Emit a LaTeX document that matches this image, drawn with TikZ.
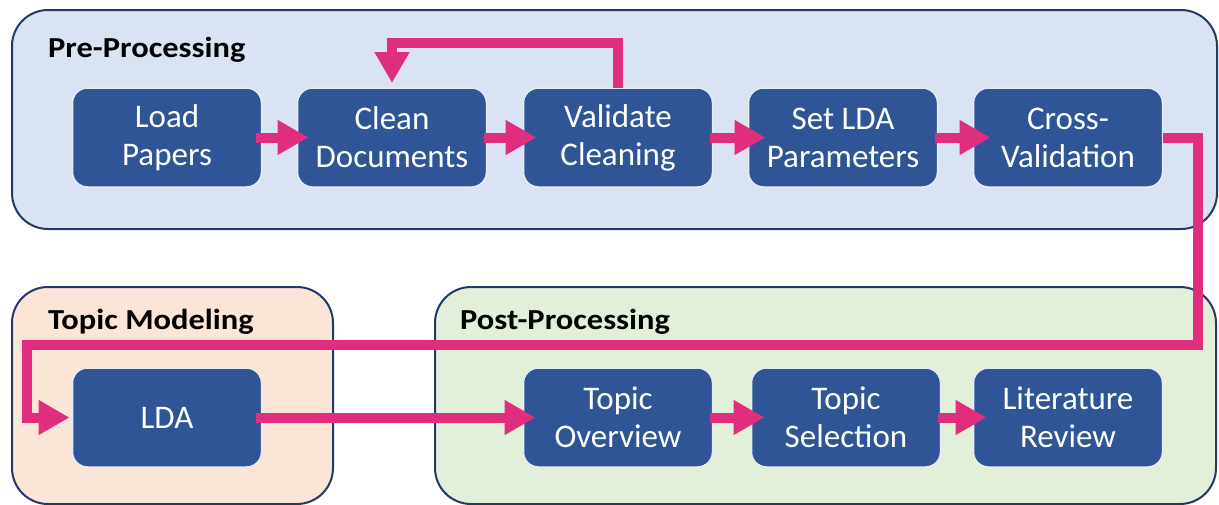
\documentclass[tikz,border=0pt]{standalone}
\usepackage{fontspec}
\setmainfont{Carlito}
\newfontfamily\titlefont[FakeStretch=1.12]{Carlito}
\usetikzlibrary{arrows.meta}
\definecolor{stepblue}{HTML}{2F5597}
\definecolor{stepedge}{HTML}{E6EBF4}
\definecolor{navy}{HTML}{22396A}
\definecolor{prefill}{HTML}{DAE3F3}
\definecolor{tmfill}{HTML}{FBE5D6}
\definecolor{postfill}{HTML}{E2F0D9}
\definecolor{flowpink}{RGB}{224,46,126}
\tikzset{
  stepbox/.style={rectangle, rounded corners=15pt, fill=stepblue, draw=stepedge,
    line width=1.5pt, minimum width=189pt, minimum height=99pt, outer sep=0pt,
    text=white, align=center, font=\fontsize{33}{38}\selectfont},
  groupbox/.style={rectangle, rounded corners=36pt, draw=navy, line width=2pt,
    outer sep=0pt, inner sep=0pt},
  grouptitle/.style={anchor=base west, inner sep=0pt,
    font=\titlefont\fontsize{29}{32}\selectfont\bfseries},
  flow/.style={draw=flowpink, line width=10pt, line join=miter,
    -{Triangle[length=31pt, width=33pt]}},
}
\begin{document}
\begin{tikzpicture}[x=1pt, y=-1pt]
\useasboundingbox (0,0) rectangle (1219,504);

% stage containers
\node[groupbox, fill=prefill, minimum width=1205pt, minimum height=219pt] (pre) at (614.5,119.5) {};
\node[groupbox, fill=tmfill, minimum width=321pt, minimum height=217pt] (tm) at (172.5,395.5) {};
\node[groupbox, fill=postfill, minimum width=781pt, minimum height=217pt] (post) at (825.5,395.5) {};

\node[grouptitle] (pretitle) at (48,57) {Pre-Processing};
\node[grouptitle] (tmtitle) at (48,329) {Topic Modeling};
\node[grouptitle] (posttitle) at (460,329) {Post-Processing};

% pre-processing steps
\node[stepbox] (load) at (167,137.5) {Load\\Papers};
\node[stepbox] (cln)  at (392,137.5) {Clean\\Documents};
\node[stepbox] (val)  at (618,137.5) {Validate\\Cleaning};
\node[stepbox] (lda-par) at (843,137.5) {Set LDA\\Parameters};
\node[stepbox] (cv)   at (1068,137.5) {Cross-\\Validation};

% modeling and post-processing steps
\node[stepbox] (lda)  at (167,417.5) {LDA};
\node[stepbox] (ovw)  at (618,417.5) {Topic\\Overview};
\node[stepbox] (sel)  at (846,417.5) {Topic\\Selection};
\node[stepbox] (rev)  at (1068,417.5) {Literature\\Review};

% connectors
\draw[flow, shorten <=-6pt, shorten >=-11pt] (load) -- (cln);
\draw[flow, shorten <=-3pt, shorten >=-13pt] (cln) -- (val);
\draw[flow, shorten <=-3pt, shorten >=-17pt] (val) -- (lda-par);
\draw[flow, shorten <=-3pt, shorten >=-17pt] (lda-par) -- (cv);
\draw[flow, shorten >=5pt] (val.north) -- ++(0,-45) -| (cln.north);

\coordinate (turnR) at (1198,345);
\coordinate (turnL) at (27,345);
\draw[flow, shorten >=3pt] (cv.east) -| (turnR) -- (turnL) |- (lda.west);

\draw[flow, shorten <=-6pt, shorten >=-12pt] (lda) -- (ovw);
\draw[flow, shorten <=-3pt, shorten >=-13pt] (ovw) -- (sel);
\draw[flow, shorten <=-3pt, shorten >=-13pt] (sel) -- (rev);
\end{tikzpicture}
\end{document}
